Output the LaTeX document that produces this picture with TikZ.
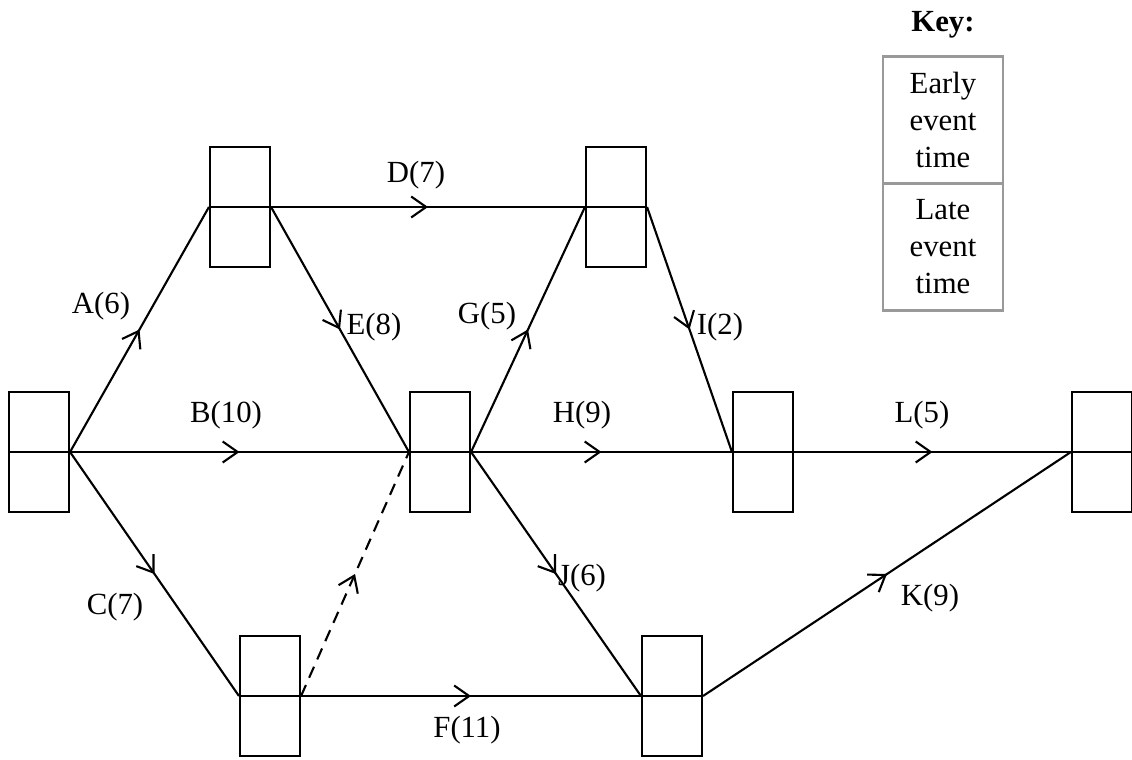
\documentclass[tikz,border=0pt]{standalone}
\usepackage{fontspec}
\setmainfont{Liberation Serif}
\usepackage{xcolor}
\usepackage{tikz}
\usetikzlibrary{positioning,arrows.meta,decorations.markings}

\tikzset{
    event/.style={draw, rectangle, line width=1.2pt, minimum width=1.2cm, minimum height=2.4cm, inner sep=0pt,
        path picture={\draw[line width=1.2pt] (path picture bounding box.west) -- (path picture bounding box.east);}},
    midarrow/.style={line width=1.2pt, postaction={decorate, decoration={markings,
        mark=at position 0.5 with {\arrow{Straight Barb[length=3mm, width=4.2mm, line width=1.2pt]}}}}},
    lbl/.style={font=\fontsize{17.5}{21}\selectfont},
    keybox/.style={draw=black!40, line width=1.6pt, outer sep=0pt, minimum width=2.4cm, minimum height=2.54cm,
        align=center, font=\fontsize{17.5}{21}\selectfont}
}

\begin{document}
\begin{tikzpicture}[x=0.02cm, y=-0.02cm]
    \useasboundingbox (0,0) rectangle (1132,760);
    % Events
    \node[event] (e1) at (39,452) {};
    \node[event] (e2) at (240,207) {};
    \node[event] (e3) at (440,452) {};
    \node[event] (e4) at (270,696) {};
    \node[event] (e5) at (616,207) {};
    \node[event] (e6) at (763,452) {};
    \node[event] (e7) at (672,696) {};
    \node[event] (e8) at (1102,452) {};

    % Activities
    \draw[midarrow] (e1.east) -- (e2.west);
    \draw[midarrow] (e1.east) -- (e3.west);
    \draw[midarrow] (e1.east) -- (e4.west);
    \draw[midarrow] (e2.east) -- (e5.west);
    \draw[midarrow] (e2.east) -- (e3.west);
    \draw[midarrow, dash pattern=on 0.24cm off 0.16cm] (e4.east) -- (e3.west);
    \draw[midarrow] (e4.east) -- (e7.west);
    \draw[midarrow] (e3.east) -- (e5.west);
    \draw[midarrow] (e3.east) -- (e6.west);
    \draw[midarrow] (e3.east) -- (e7.west);
    \draw[midarrow] (e5.east) -- (e6.west);
    \draw[midarrow] (e6.east) -- (e8.west);
    \draw[midarrow] (e7.east) -- (e8.west);

    % Labels
    \node[lbl] (la) at (101,306) {A(6)};
    \node[lbl] (lb) at (226,415) {B(10)};
    \node[lbl] (lc) at (115,607) {C(7)};
    \node[lbl] (ld) at (416,175) {D(7)};
    \node[lbl] (le) at (374,327) {E(8)};
    \node[lbl] (lf) at (467,730) {F(11)};
    \node[lbl] (lg) at (487,316) {G(5)};
    \node[lbl] (lh) at (582,415) {H(9)};
    \node[lbl] (li) at (720,327) {I(2)};
    \node[lbl] (lj) at (582,578) {J(6)};
    \node[lbl] (lk) at (930,598) {K(9)};
    \node[lbl] (ll) at (922,415) {L(5)};

    % Key
    \node[lbl, font=\fontsize{17.5}{21}\selectfont\bfseries] (key) at (943,25) {Key:};
    \node[keybox] (early) at (943,120) {Early\\event\\time};
    \node[keybox, below=0pt of early] (late) {Late\\event\\time};
\end{tikzpicture}
\end{document}
